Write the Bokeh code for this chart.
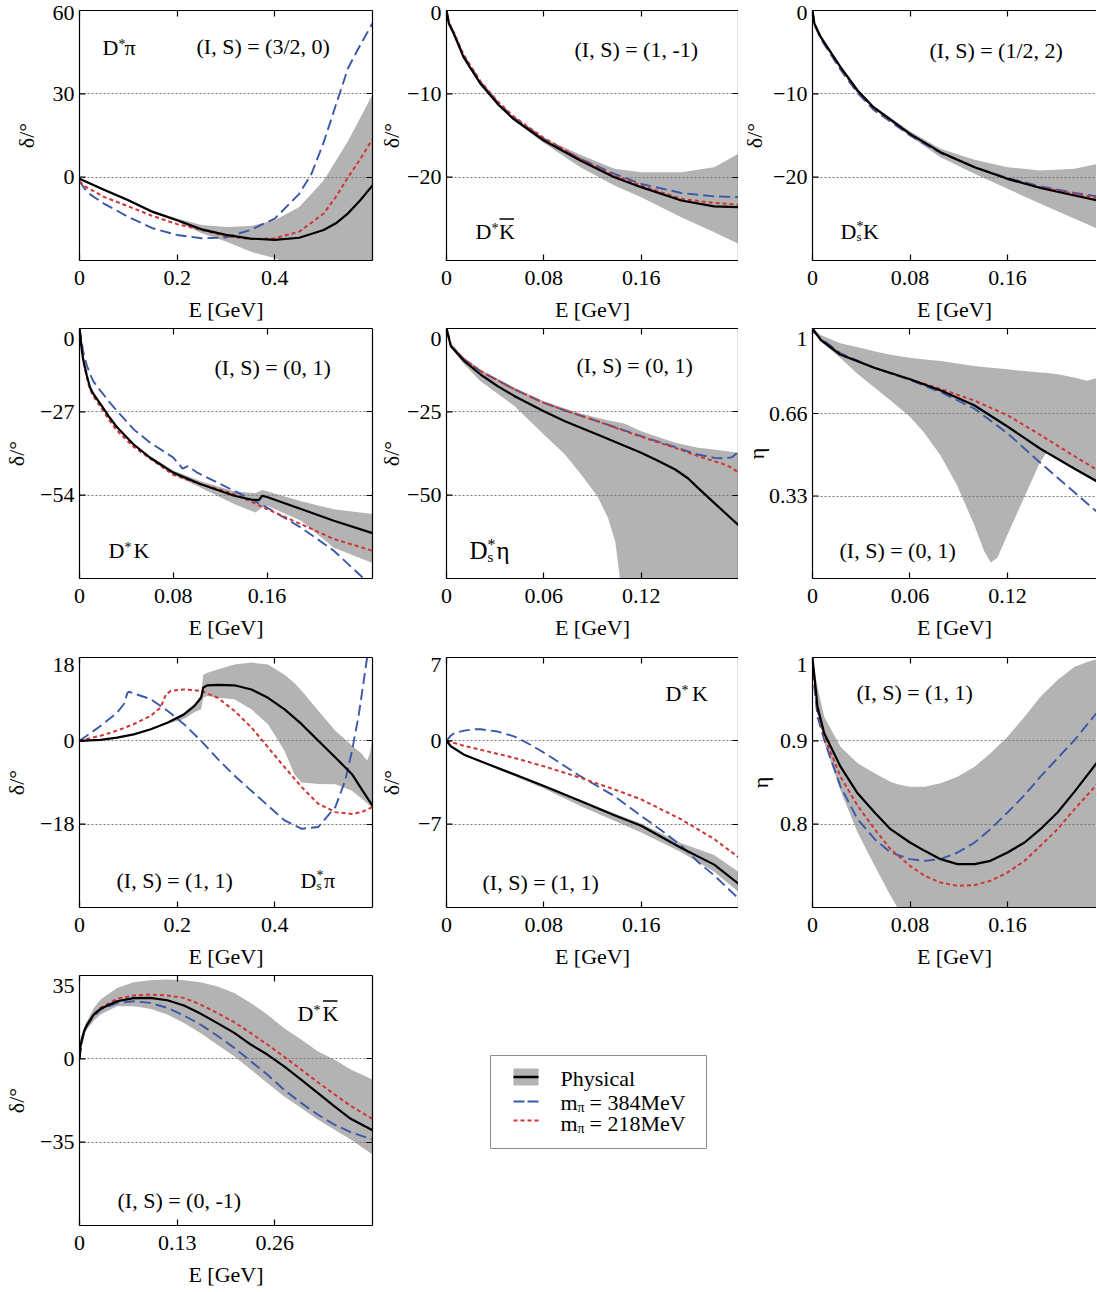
from bokeh.plotting import figure
from bokeh.models import Range1d, FixedTicker, LinearAxis, Label
from bokeh.layouts import column, row
from bokeh.embed import file_html
from bokeh.resources import INLINE

FONT = "Liberation Serif"
FSZ = 22
GRAY = "#b3b3b3"
BLUE = "#3b58a8"
RED = "#d03434"

# ---------------- data ----------------
# (a) D*pi, (I,S)=(3/2,0)
a_E_phys = [0, 0.05, 0.1, 0.15, 0.2, 0.25, 0.3, 0.35, 0.4, 0.45, 0.5, 0.525, 0.55, 0.575, 0.6]
a_phys = [-0.6, -4.5, -8.3, -12.5, -15.5, -18.8, -20.8, -22.1, -22.6, -21.8, -19.0, -16.6, -13.0, -8.3, -3.0]
a_E_m384 = [0, 0.01, 0.02, 0.05, 0.1, 0.15, 0.2, 0.25, 0.3, 0.35, 0.4, 0.45, 0.475, 0.5, 0.525, 0.55, 0.575, 0.6]
a_m384 = [-1.5, -4.0, -6.0, -9.5, -14.3, -18.4, -20.8, -22.0, -21.7, -19.0, -14.9, -6.0, 1.2, 12.5, 26.0, 39.3, 47.6, 55.4]
a_E_m218 = [0, 0.01, 0.05, 0.1, 0.15, 0.2, 0.25, 0.3, 0.35, 0.4, 0.45, 0.5, 0.525, 0.55, 0.575, 0.6]
a_m218 = [-1.5, -3.2, -7.1, -10.5, -14.0, -16.9, -19.0, -21.2, -22.3, -22.0, -19.6, -13.1, -7.1, 0.0, 6.5, 13.7]
a_E_band = [0, 0.1, 0.15, 0.2, 0.25, 0.3, 0.35, 0.4, 0.45, 0.5, 0.55, 0.6]
a_band_hi = [-0.3, -7.9, -12.0, -14.9, -17.2, -17.9, -17.6, -15.5, -10.7, -1.2, 13.0, 29.8]
a_band_lo = [-0.9, -8.7, -13.0, -16.0, -20.2, -23.2, -26.8, -29.2, -33.0, -36.0, -38.0, -40.0]

# (b) D*Kbar, (I,S)=(1,-1)
b_E = [0, 0.002, 0.006, 0.014, 0.028, 0.042, 0.055, 0.08, 0.11, 0.138, 0.16, 0.193, 0.22, 0.24]
b_phys = [0, -1.6, -2.8, -5.6, -8.8, -11.2, -13.0, -15.6, -18.0, -20.0, -21.2, -22.8, -23.5, -23.6]
b_m384 = [0, -1.5, -2.7, -5.4, -8.6, -11.0, -12.8, -15.4, -17.8, -19.6, -20.8, -21.9, -22.3, -22.4]
b_m218 = [0, -1.4, -2.6, -5.3, -8.5, -10.9, -12.7, -15.3, -17.8, -19.8, -21.0, -22.6, -23.1, -23.3]
b_band_hi = [0, -1.4, -2.6, -5.4, -8.6, -11.0, -12.8, -15.3, -17.3, -19.0, -19.4, -19.4, -18.8, -17.2]
b_band_lo = [0, -1.8, -3.0, -5.8, -9.0, -11.4, -13.2, -15.9, -18.8, -21.0, -22.4, -24.8, -26.6, -28.0]

# (c) Ds*K, (I,S)=(1/2,2)
c_E = [0, 0.0016, 0.0068, 0.023, 0.037, 0.05, 0.08, 0.105, 0.133, 0.16, 0.187, 0.215, 0.234]
c_phys = [0, -1.6, -3.2, -6.8, -9.6, -11.6, -14.8, -17.0, -18.8, -20.2, -21.3, -22.2, -22.8]
c_m384 = [0, -1.7, -3.4, -7.1, -9.9, -11.9, -15.0, -17.1, -18.8, -20.1, -21.1, -21.9, -22.3]
c_m218 = [0, -1.6, -3.2, -6.9, -9.7, -11.7, -14.8, -17.0, -18.8, -20.2, -21.2, -22.0, -22.5]
c_band_hi = [0, -1.4, -3.0, -6.6, -9.4, -11.4, -14.5, -16.6, -17.9, -18.8, -19.2, -19.0, -18.4]
c_band_lo = [0, -1.8, -3.4, -7.0, -9.8, -11.8, -15.1, -17.6, -19.6, -21.4, -23.2, -25.0, -26.2]

# (d) D*K, (I,S)=(0,1)
d_E_phys = [0, 0.002, 0.0034, 0.0063, 0.009, 0.012, 0.018, 0.025, 0.032, 0.046, 0.06, 0.08, 0.103,
            0.132, 0.146, 0.153, 0.156, 0.16, 0.189, 0.217, 0.25]
d_phys = [0, -7.2, -10.5, -15.3, -19.1, -21.3, -24.5, -28.5, -32.0, -37.5, -41.8, -46.7, -50.4,
          -54.2, -55.4, -55.6, -54.2, -54.6, -58.5, -62.3, -66.3]
d_E_m384 = [0, 0.0034, 0.0063, 0.009, 0.012, 0.018, 0.025, 0.032, 0.046, 0.06, 0.08, 0.088, 0.0925,
            0.1, 0.132, 0.16, 0.189, 0.217, 0.243]
d_m384 = [0, -8.0, -12.0, -14.8, -17.2, -20.2, -23.6, -26.7, -32.6, -36.9, -41.8, -45.4, -44.6,
          -46.6, -52.6, -58.0, -64.5, -72.0, -81.2]
d_E_m218 = [0, 0.0034, 0.0063, 0.009, 0.012, 0.018, 0.025, 0.032, 0.046, 0.08, 0.103, 0.118, 0.132,
            0.16, 0.189, 0.217, 0.25]
d_m218 = [0, -11.0, -16.0, -19.8, -22.0, -25.4, -29.5, -33.1, -38.3, -47.4, -50.4, -52.0, -53.6,
          -58.5, -63.4, -68.2, -72.0]
d_E_band = [0, 0.002, 0.0034, 0.0063, 0.009, 0.012, 0.018, 0.025, 0.032, 0.046, 0.06, 0.08, 0.103,
            0.132, 0.15, 0.156, 0.16, 0.189, 0.217, 0.25]
d_band_hi = [0, -7.0, -10.3, -15.0, -18.8, -21.0, -24.2, -28.2, -31.6, -37.1, -41.3, -46.0, -49.4,
             -52.7, -53.4, -52.3, -52.7, -56.0, -58.6, -60.1]
d_band_lo = [0, -7.4, -10.7, -15.6, -19.4, -21.6, -24.8, -28.8, -32.4, -37.9, -42.3, -47.4, -51.5,
             -56.9, -59.6, -58.0, -57.4, -62.3, -71.0, -76.0]

# (e) Ds*eta, (I,S)=(0,1)
e_E_phys = [0, 0.0027, 0.011, 0.021, 0.0315, 0.042, 0.06, 0.073, 0.093, 0.12, 0.13, 0.141, 0.149,
            0.155, 0.165, 0.18]
e_phys = [0, -5.3, -9.8, -13.8, -17.3, -20.3, -24.8, -27.8, -31.8, -37.3, -39.6, -42.3, -45.0,
          -47.8, -52.3, -59.0]
e_E_m = [0, 0.0027, 0.011, 0.021, 0.042, 0.06, 0.073, 0.093, 0.12, 0.141, 0.155, 0.165, 0.172, 0.176, 0.18]
e_m384 = [0, -5.0, -9.3, -12.8, -18.3, -22.3, -24.6, -27.8, -32.3, -35.6, -37.8, -38.8, -39.0, -38.6, -37.0]
e_m218 = [0, -5.0, -9.3, -12.8, -18.3, -22.3, -24.6, -27.8, -32.5, -35.8, -38.3, -39.8, -40.9, -41.8, -43.3]
e_E_band = [0, 0.0027, 0.011, 0.021, 0.042, 0.06, 0.073, 0.083, 0.093, 0.0995, 0.104, 0.107, 0.11, 0.12, 0.141, 0.155, 0.165, 0.18]
e_band_hi = [0, -4.8, -8.8, -12.3, -17.8, -21.8, -24.0, -25.5, -26.8, -27.5, -28.0, -28.3, -28.6, -30.8, -34.3, -35.8, -36.3, -37.3]
e_band_lo = [0, -5.8, -10.8, -15.8, -23.3, -31.8, -37.8, -43.8, -50.3, -56.8, -63.8, -75.3, -90, -90, -90, -90, -90, -90]

# (f) inelasticity eta, (I,S)=(0,1)
f_E = [0, 0.005, 0.017, 0.038, 0.06, 0.079, 0.0995, 0.12, 0.14, 0.161, 0.176]
f_phys = [1.0, 0.955, 0.896, 0.843, 0.797, 0.752, 0.693, 0.608, 0.52, 0.44, 0.385]
f_m384 = [0.99, 0.961, 0.902, 0.843, 0.794, 0.745, 0.68, 0.581, 0.464, 0.346, 0.261]
f_m218 = [1.0, 0.955, 0.896, 0.843, 0.797, 0.758, 0.712, 0.653, 0.575, 0.49, 0.431]
f_E_band = [0, 0.005, 0.017, 0.028, 0.038, 0.048, 0.06, 0.069, 0.079, 0.089, 0.0995, 0.1056, 0.1097,
            0.1138, 0.12, 0.13, 0.14, 0.1446, 0.151, 0.161, 0.169, 0.176]
f_band_hi = [1.0, 0.974, 0.941, 0.925, 0.909, 0.895, 0.883, 0.876, 0.87, 0.86, 0.85, 0.846, 0.843,
             0.841, 0.837, 0.83, 0.824, 0.822, 0.817, 0.804, 0.791, 0.804]
f_band_lo = [1.0, 0.948, 0.883, 0.817, 0.765, 0.712, 0.647, 0.581, 0.49, 0.372, 0.215, 0.11, 0.064,
             0.083, 0.175, 0.32, 0.464, 0.509, 0.478, 0.437, 0.41, 0.385]

# (g) Ds*pi, (I,S)=(1,1)
g_E_phys = [0, 0.043, 0.077, 0.111, 0.146, 0.18, 0.214, 0.235, 0.249, 0.2535, 0.262, 0.283, 0.317,
            0.352, 0.386, 0.42, 0.455, 0.489, 0.524, 0.558, 0.58, 0.6]
g_phys = [0, 0.2, 0.7, 1.4, 2.5, 3.9, 5.7, 7.5, 9.3, 11.5, 12.0, 12.1, 12.0, 11.1, 9.3, 6.8, 3.6,
          0.0, -3.6, -7.2, -10.8, -14.0]
g_E_m384 = [0, 0.043, 0.077, 0.0907, 0.098, 0.101, 0.146, 0.18, 0.214, 0.249, 0.283, 0.317, 0.352,
            0.386, 0.42, 0.455, 0.489, 0.524, 0.544, 0.558, 0.572, 0.582, 0.589, 0.595]
g_m384 = [0, 3.2, 6.1, 7.9, 10.3, 10.6, 9.0, 6.5, 3.6, 0.0, -3.9, -7.5, -10.8, -14.0, -17.2, -19.0,
          -18.6, -14.3, -8.6, -2.2, 5.7, 12.9, 18.0, 26.0]
g_E_m218 = [0, 0.043, 0.077, 0.111, 0.146, 0.166, 0.177, 0.187, 0.214, 0.249, 0.283, 0.317, 0.352,
            0.386, 0.42, 0.455, 0.489, 0.524, 0.558, 0.578, 0.6]
g_m218 = [0, 1.1, 2.2, 3.6, 5.4, 7.2, 10.0, 10.8, 11.1, 10.8, 9.3, 6.5, 2.9, -1.4, -5.7, -10.0,
          -13.6, -15.4, -15.8, -15.4, -14.3]
g_E_band = [0.18, 0.214, 0.235, 0.249, 0.2535, 0.262, 0.283, 0.317, 0.352, 0.386, 0.42, 0.44, 0.455,
            0.489, 0.524, 0.558, 0.578, 0.589, 0.595, 0.6]
g_band_hi = [4.1, 6.1, 7.9, 9.9, 14.3, 14.7, 15.4, 16.5, 16.9, 16.5, 14.3, 12.5, 10.8, 6.5, 2.2,
             -1.0, -2.8, -4.3, -2.5, 1.0]
g_band_lo = [3.7, 4.7, 6.2, 6.8, 9.3, 9.7, 9.3, 9.0, 6.8, 3.6, -2.2, -7.2, -9.0, -9.3, -9.4, -10.8,
             -12.5, -13.5, -14.1, -14.7]

# (h) D*K, (I,S)=(1,1)
h_E_phys = [0, 0.0036, 0.0145, 0.028, 0.056, 0.08, 0.11, 0.138, 0.16, 0.193, 0.22, 0.24]
h_phys = [0, -0.47, -1.17, -1.72, -2.83, -3.8, -5.06, -6.25, -7.14, -9.0, -10.4, -12.0]
h_E_m384 = [0, 0.0036, 0.0063, 0.0145, 0.0228, 0.028, 0.042, 0.056, 0.069, 0.083, 0.11, 0.138, 0.16,
            0.179, 0.193, 0.207, 0.22, 0.24]
h_m384 = [0, 0.45, 0.64, 0.86, 0.97, 0.97, 0.78, 0.36, -0.33, -1.17, -2.97, -4.64, -6.3, -7.7, -8.8,
          -10.2, -11.3, -13.25]
h_E_m218 = [0, 0.0145, 0.028, 0.056, 0.08, 0.11, 0.138, 0.16, 0.193, 0.22, 0.24]
h_m218 = [0, -0.42, -0.75, -1.44, -2.14, -3.1, -4.08, -4.92, -6.6, -8.25, -9.78]
h_E_band = [0, 0.0145, 0.028, 0.056, 0.08, 0.11, 0.138, 0.16, 0.193, 0.22, 0.24]
h_band_hi = [0, -1.1, -1.65, -2.75, -3.7, -4.95, -6.1, -6.95, -8.6, -9.6, -11.0]
h_band_lo = [0, -1.25, -1.8, -2.97, -4.0, -5.47, -6.72, -7.7, -9.36, -11.0, -12.7]

# (i) inelasticity eta, (I,S)=(1,1)
i_E = [0, 0.0041, 0.0096, 0.023, 0.037, 0.051, 0.064, 0.08, 0.092, 0.105, 0.119, 0.133, 0.146, 0.16,
       0.174, 0.187, 0.201, 0.215, 0.234]
i_phys = [1.0, 0.941, 0.909, 0.869, 0.837, 0.814, 0.794, 0.778, 0.768, 0.758, 0.752, 0.752, 0.756,
          0.766, 0.778, 0.794, 0.814, 0.839, 0.875]
i_m384 = [0.986, 0.929, 0.901, 0.845, 0.806, 0.782, 0.766, 0.758, 0.756, 0.758, 0.766, 0.778, 0.794,
          0.814, 0.835, 0.857, 0.879, 0.901, 0.935]
i_m218 = [0.994, 0.937, 0.905, 0.857, 0.822, 0.794, 0.770, 0.75, 0.738, 0.730, 0.726, 0.727, 0.732,
          0.742, 0.756, 0.774, 0.794, 0.818, 0.849]
i_E_band = [0, 0.0041, 0.0096, 0.023, 0.037, 0.051, 0.064, 0.0697, 0.08, 0.092, 0.105, 0.119, 0.133,
            0.146, 0.16, 0.174, 0.187, 0.201, 0.215, 0.226, 0.234]
i_band_hi = [1.0, 0.965, 0.929, 0.893, 0.873, 0.861, 0.851, 0.848, 0.845, 0.845, 0.849, 0.857, 0.869,
             0.885, 0.905, 0.929, 0.953, 0.973, 0.989, 0.995, 0.998]
i_band_lo = [1.0, 0.935, 0.898, 0.84, 0.79, 0.75, 0.714, 0.7, 0.67, 0.64, 0.62, 0.6, 0.6, 0.6, 0.6,
             0.6, 0.6, 0.6, 0.6, 0.6, 0.6]

# (j) D*Kbar, (I,S)=(0,-1)
j_E = [0, 0.0015, 0.003, 0.006, 0.01, 0.019, 0.028, 0.05, 0.072, 0.094, 0.117, 0.139, 0.161, 0.183,
       0.206, 0.228, 0.25, 0.272, 0.295, 0.317, 0.339, 0.361, 0.39]
j_phys = [0, 5.5, 8.1, 11.6, 14.4, 18.6, 21.0, 24.2, 25.5, 25.6, 24.6, 22.4, 19.0, 15.1, 10.9, 6.0,
          1.8, -3.1, -8.7, -14.3, -19.9, -25.2, -30.0]
j_m384 = [0, 4.5, 6.7, 10.5, 13.7, 17.9, 20.7, 23.5, 24.2, 23.5, 21.4, 18.2, 14.4, 9.8, 4.6, -1.0,
          -6.6, -12.9, -18.5, -23.4, -27.6, -30.8, -33.9]
j_m218 = [0, 5.0, 7.5, 11.2, 14.4, 18.8, 21.4, 25.2, 26.6, 27.0, 26.6, 25.6, 22.8, 19.3, 15.4, 10.8,
          6.0, 1.0, -4.5, -9.8, -14.8, -19.8, -25.2]
j_band_hi = [0, 6.0, 8.5, 12.5, 15.8, 21.4, 24.9, 29.8, 32.2, 33.0, 33.3, 33.0, 32.2, 30.5, 27.7,
             23.5, 18.6, 13.0, 8.1, 3.2, -0.3, -4.5, -8.7]
j_band_lo = [0, 4.8, 7.5, 10.2, 12.3, 16.0, 18.6, 22.1, 22.1, 21.0, 18.6, 15.1, 10.9, 6.0, 1.1,
             -4.5, -10.1, -15.7, -20.6, -25.5, -29.7, -33.9, -40.2]

legend_labels = ["Physical", "= 384MeV", "= 218MeV"]

# ---------------- layout constants (page has no margin) ----------------
COL_W = [(79, 293, 3), (71, 292, 0), (74, 284, 0)]          # left border, frame width, right border
ROW_H = [(10, 250, 65), (3, 250, 65), (14, 250, 65), (3, 250, 66)]  # top, frame height, bottom
TOP_SHIFT = [2, 10, 7, 10]   # top tick label sits a little below the frame top


def fmt(v):
    return ("%g" % v).replace("-", "\u2212")


def D(size=FSZ):
    return (0, 0, "D", size)


def IS(s):
    return [(0, 0, s, FSZ)]


panels = [
    dict(pos=(0, 0), x=(0, 0.6), y=(-30, 60), xt=[0, 0.2, 0.4], yt=[0, 30, 60], ylab="δ/°", ls=11,
         band=(a_E_band, a_band_lo, a_band_hi), m384=(a_E_m384, a_m384), m218=(a_E_m218, a_m218),
         phys=(a_E_phys, a_phys),
         texts=[(23, 37, [D(), (16, -3, "*", 14), (22, 0, "π", FSZ)]),
                (117, 36, IS("(I, S) = (3/2, 0)"))], over=None),
    dict(pos=(0, 1), x=(0, 0.24), y=(-30, 0), xt=[0, 0.08, 0.16], yt=[-20, -10, 0], ylab="δ/°", ls=0,
         band=(b_E, b_band_lo, b_band_hi), m384=(b_E, b_m384), m218=(b_E, b_m218), phys=(b_E, b_phys),
         texts=[(128, 39, IS("(I, S) = (1, -1)")),
                (29, 221, [D(), (16, -3, "*", 14), (23.5, 0, "K", FSZ)])],
         over=(29 + 24, 29 + 38.5, 221 - 12.5)),
    dict(pos=(0, 2), x=(0, 0.233), y=(-30, 0), xt=[0, 0.08, 0.16], yt=[-20, -10, 0], ylab="δ/°", ls=3,
         band=(c_E, c_band_lo, c_band_hi), m384=(c_E, c_m384), m218=(c_E, c_m218), phys=(c_E, c_phys),
         texts=[(117, 40, IS("(I, S) = (1/2, 2)")),
                (28, 221, [D(), (16, -5, "*", 14), (16, 5, "s", 13), (22.5, 0, "K", FSZ)])], over=None),
    dict(pos=(1, 0), x=(0, 0.25), y=(-81, 0), xt=[0, 0.08, 0.16], yt=[-54, -27, 0], ylab="δ/°", ls=8,
         band=(d_E_band, d_band_lo, d_band_hi), m384=(d_E_m384, d_m384), m218=(d_E_m218, d_m218),
         phys=(d_E_phys, d_phys),
         texts=[(135, 39, IS("(I, S) = (0, 1)")),
                (29, 222, [D(), (16, -3, "*", 14), (25, 0, "K", FSZ)])], over=None),
    dict(pos=(1, 1), x=(0, 0.18), y=(-75, 0), xt=[0, 0.06, 0.12], yt=[-50, -25, 0], ylab="δ/°", ls=0,
         band=(e_E_band, e_band_lo, e_band_hi), m384=(e_E_m, e_m384), m218=(e_E_m, e_m218),
         phys=(e_E_phys, e_phys),
         texts=[(130, 37, IS("(I, S) = (0, 1)")),
                (23, 222, [D(25), (18, -6, "*", 16), (18, 6, "s", 15), (27, 0, "η", 25)])], over=None),
    dict(pos=(1, 2), x=(0, 0.1748), y=(0, 1), xt=[0, 0.06, 0.12], yt=[0.33, 0.66, 1], ylab="η", ls=-3,
         band=(f_E_band, f_band_lo, f_band_hi), m384=(f_E, f_m384), m218=(f_E, f_m218), phys=(f_E, f_phys),
         texts=[(27, 222, IS("(I, S) = (0, 1)"))], over=None),
    dict(pos=(2, 0), x=(0, 0.6), y=(-36, 18), xt=[0, 0.2, 0.4], yt=[-18, 0, 18], ylab="δ/°", ls=8,
         band=(g_E_band, g_band_lo, g_band_hi), m384=(g_E_m384, g_m384), m218=(g_E_m218, g_m218),
         phys=(g_E_phys, g_phys),
         texts=[(37, 223, IS("(I, S) = (1, 1)")),
                (221, 223, [D(), (16, -5, "*", 14), (16, 5, "s", 13), (23.5, 0, "π", FSZ)])], over=None),
    dict(pos=(2, 1), x=(0, 0.24), y=(-14, 7), xt=[0, 0.08, 0.16], yt=[-7, 0, 7], ylab="δ/°", ls=11,
         band=(h_E_band, h_band_lo, h_band_hi), m384=(h_E_m384, h_m384), m218=(h_E_m218, h_m218),
         phys=(h_E_phys, h_phys),
         texts=[(219, 36, [D(), (16, -3, "*", 14), (26.5, 0, "K", FSZ)]),
                (36, 225, IS("(I, S) = (1, 1)"))], over=None),
    dict(pos=(2, 2), x=(0, 0.233), y=(0.7, 1), xt=[0, 0.08, 0.16], yt=[0.8, 0.9, 1], ylab="η", ls=4,
         band=(i_E_band, i_band_lo, i_band_hi), m384=(i_E, i_m384), m218=(i_E, i_m218), phys=(i_E, i_phys),
         texts=[(44, 35, IS("(I, S) = (1, 1)"))], over=None),
    dict(pos=(3, 0), x=(0, 0.39), y=(-70, 35), xt=[0, 0.13, 0.26], yt=[-35, 0, 35], ylab="δ/°", ls=8,
         band=(j_E, j_band_lo, j_band_hi), m384=(j_E, j_m384), m218=(j_E, j_m218), phys=(j_E, j_phys),
         texts=[(218, 38, [D(), (16, -3, "*", 14), (25, 0, "K", FSZ)]),
                (38, 225, IS("(I, S) = (0, -1)"))],
         over=(218 + 25.5, 218 + 40, 38 - 12.5)),
]


def style_axis(ax):
    ax.major_tick_in = 6
    ax.major_tick_out = 0
    ax.minor_tick_line_color = None
    ax.axis_line_width = 1.2
    ax.major_tick_line_width = 1.2
    ax.axis_line_color = "black"
    ax.major_tick_line_color = "black"
    ax.major_label_text_font = FONT
    ax.major_label_text_font_size = f"{FSZ}px"
    ax.major_label_text_color = "black"
    ax.axis_label_text_font = FONT
    ax.axis_label_text_font_size = f"{FSZ}px"
    ax.axis_label_text_font_style = "normal"
    ax.axis_label_text_color = "black"


def blank_axis(ticks):
    ax = LinearAxis(ticker=FixedTicker(ticks=ticks))
    style_axis(ax)
    ax.major_label_text_font_size = "0px"
    ax.major_label_standoff = 0
    ax.major_label_overrides = {float(v): "" for v in ticks}
    return ax


def make_panel(s):
    r, c = s["pos"]
    l, fw, rb = COL_W[c]
    t, fh, b = ROW_H[r]
    x0, x1 = s["x"]
    y0, y1 = s["y"]
    sx = (x1 - x0) / fw
    sy = (y1 - y0) / fh
    p = figure(width=l + fw + rb, height=t + fh + b, x_range=Range1d(x0, x1), y_range=Range1d(y0, y1),
               output_backend="svg", toolbar_location=None, tools="",
               min_border_left=l, min_border_right=rb, min_border_top=t, min_border_bottom=b)
    p.outline_line_color = None
    p.background_fill_color = "white"
    p.border_fill_color = "white"
    p.xgrid.visible = False
    yt = s["yt"]
    inner = yt[:-1]
    p.ygrid.ticker = FixedTicker(ticks=inner)
    p.ygrid.grid_line_color = "#7a7a7a"
    p.ygrid.grid_line_dash = "2 2"
    p.ygrid.grid_line_width = 1

    xa = p.xaxis[0]
    ya = p.yaxis[0]
    style_axis(xa)
    style_axis(ya)
    xa.ticker = FixedTicker(ticks=s["xt"])
    xa.major_label_overrides = {float(v): fmt(v) for v in s["xt"]}
    xa.axis_label = "E [GeV]"
    xa.major_label_standoff = 10
    xa.axis_label_standoff = 9

    # left axis: labels only; the top label sits slightly below the frame top
    top_pos = y1 - TOP_SHIFT[r] * sy
    ya.ticker = FixedTicker(ticks=inner + [top_pos])
    ov = {float(v): fmt(v) for v in inner}
    ov[float(top_pos)] = fmt(yt[-1])
    ya.major_label_overrides = ov
    ya.major_tick_in = 0
    ya.axis_label = s["ylab"]
    ya.major_label_standoff = 5
    ya.axis_label_standoff = s["ls"]

    p.add_layout(blank_axis(s["xt"]), "above")
    if c < 2:
        p.add_layout(blank_axis(inner), "right")

    bE, blo, bhi = s["band"]
    p.varea(x=bE, y1=blo, y2=bhi, fill_color=GRAY, fill_alpha=1.0, level="image")
    p.line(s["m384"][0], s["m384"][1], line_color=BLUE, line_width=1.9, line_dash="11 5")
    p.line(s["m218"][0], s["m218"][1], line_color=RED, line_width=2.0, line_dash="4 3")
    p.line(s["phys"][0], s["phys"][1], line_color="black", line_width=2.2)

    # inward tick marks on the left edge
    n = len(inner)
    p.segment(x0=[x0] * n, y0=inner, x1=[x0 + 6 * sx] * n, y1=inner, line_color="black",
              line_width=1.2)

    for fx, fy, pieces in s["texts"]:
        for dx, dy, txt, size in pieces:
            p.add_layout(Label(x=x0 + (fx + dx) * sx, y=y1 - (fy + dy) * sy, text=txt, text_font=FONT,
                               text_font_size=f"{size}px", text_align="left", text_baseline="middle",
                               text_color="black"))
    if s["over"] is not None:
        fa, fb, fy = s["over"]
        p.segment(x0=[x0 + fa * sx], y0=[y1 - fy * sy], x1=[x0 + fb * sx], y1=[y1 - fy * sy],
                  line_color="black", line_width=1.3)
    return p


figs = [make_panel(s) for s in panels]

# ---------------- legend panel (coordinates in pixels of its frame) ----------------
LW = sum(COL_W[1]) + sum(COL_W[2])
t4, fh4, b4 = ROW_H[3]
lg = figure(width=LW, height=t4 + fh4 + b4, x_range=Range1d(0, LW), y_range=Range1d(fh4, 0),
            output_backend="svg", toolbar_location=None, tools="",
            min_border_left=0, min_border_right=0, min_border_top=t4, min_border_bottom=b4,
            x_axis_location=None, y_axis_location=None)
lg.outline_line_color = None
lg.background_fill_color = "white"
lg.border_fill_color = "white"
for g in lg.grid:
    g.visible = False

lg.quad(left=[115], right=[331], top=[80], bottom=[173], fill_color="white", line_color="#8c8c8c",
        line_width=1)
lg.quad(left=[138], right=[163], top=[93], bottom=[110], fill_color=GRAY, line_color=None)
lg.line([138, 163], [101.5, 101.5], line_color="black", line_width=2.5)
lg.line([138, 163], [126, 126], line_color=BLUE, line_width=1.9, line_dash="11 3")
lg.line([138, 163], [145, 145], line_color=RED, line_width=2.0, line_dash="4 3")


def ltext(x, y, txt, size=FSZ):
    lg.add_layout(Label(x=x, y=y, text=txt, text_font=FONT, text_font_size=f"{size}px",
                        text_align="left", text_baseline="middle", text_color="black"))


ltext(185, 103, legend_labels[0])
for yy, lab in ((126.5, legend_labels[1]), (147.5, legend_labels[2])):
    ltext(185, yy, "m")
    ltext(202, yy + 5, "π", 14)
    ltext(214, yy, lab)

layout = column(
    row(figs[0], figs[1], figs[2]),
    row(figs[3], figs[4], figs[5]),
    row(figs[6], figs[7], figs[8]),
    row(figs[9], lg),
)

open("out.html", "w").write(file_html(layout, INLINE, title="phase shifts"))
